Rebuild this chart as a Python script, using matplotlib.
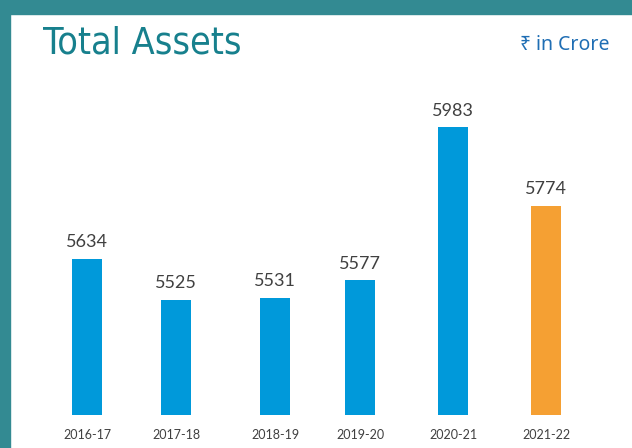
import matplotlib.pyplot as plt
from matplotlib.patches import Rectangle

# data
years = ["2016-17", "2017-18", "2018-19", "2019-20", "2020-21", "2021-22"]
assets = [5634, 5525, 5531, 5577, 5983, 5774]
barColors = ["#0099DA"] * 5 + ["#F5A033"]

# layout (pixel-ish x positions of bar centres, bars are not evenly spaced)
xPos = [87, 176, 275, 360, 453, 546]
W, H = 632, 448

fig = plt.figure(figsize=(W / 100, H / 100), dpi=100)
fig.patch.set_facecolor("white")

# teal frame on left and top
fig.patches.append(Rectangle((0, 0), 10 / W, 1, transform=fig.transFigure,
                             color="#338A92", zorder=0))
fig.patches.append(Rectangle((0, 1 - 14 / H), 1, 14 / H, transform=fig.transFigure,
                             color="#338A92", zorder=0))

ax = fig.add_axes([10 / W, 33 / H, (W - 10) / W, (415 - 80) / H])
ax.bar(xPos, assets, width=30, color=barColors, bottom=0)
ax.set_xlim(10, W)
ax.set_ylim(5220, 6107)

for x, v in zip(xPos, assets):
  ax.text(x, v + 22, str(v), ha="center", va="bottom",
          fontsize=13, color="#404040", family=["Lato", "DejaVu Sans"])

ax.set_xticks(xPos)
ax.set_xticklabels(years, fontsize=9, color="#404040", family=["Lato", "DejaVu Sans"])
ax.tick_params(axis="x", length=0, pad=10)
ax.set_yticks([])
for s in ax.spines.values():
  s.set_visible(False)

fig.text(43 / W, 1 - 43 / H, "Total Assets", fontsize=27, color="#17808D",
         va="center", ha="left", family="DejaVu Sans", stretch="condensed")
fig.text(610 / W, 1 - 45 / H, "₹ in Crore", fontsize=14, color="#1F6EB4",
         va="center", ha="right", family=["Noto Sans", "DejaVu Sans"])

fig.savefig("out.png", dpi=100)
